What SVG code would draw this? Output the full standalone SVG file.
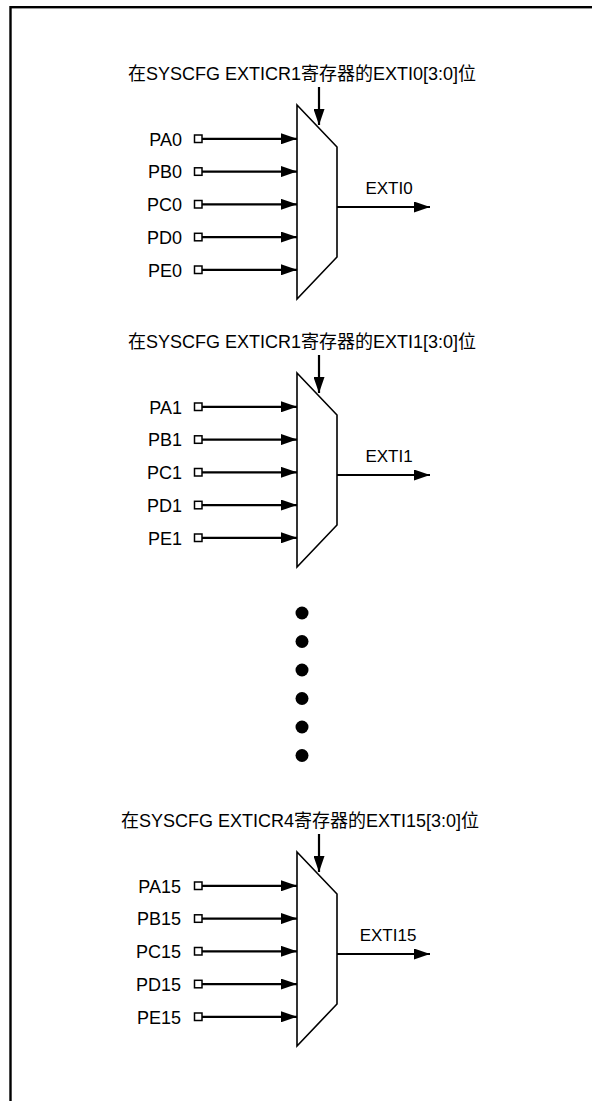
<svg xmlns="http://www.w3.org/2000/svg" width="592" height="1101" viewBox="0 0 592 1101">
<defs>
<style>
.t{font-family:"Liberation Sans","Noto Sans CJK SC",sans-serif;font-size:18px;fill:#000}
.lab{font-family:"Liberation Sans",sans-serif;font-size:18px;fill:#000;text-anchor:end}
.out{font-family:"Liberation Sans",sans-serif;font-size:17px;fill:#000;text-anchor:middle}
.w{stroke:#000;stroke-width:2.2;fill:none}
.sq{stroke:#000;stroke-width:1.5;fill:#fff}
.mux{stroke:#000;stroke-width:1.6;fill:#fff}
</style>
<marker id="ah" markerUnits="userSpaceOnUse" markerWidth="16" markerHeight="11" refX="16" refY="5.5" orient="auto">
<path d="M0,0 L16,5.5 L0,11 z" fill="#000"/>
</marker>
<g id="muxblock">
<path class="mux" d="M297,105 L337,147 L337,257 L297,299 Z"/>
</g>
</defs>
<rect x="10.5" y="7.2" width="700" height="1200" fill="none" stroke="#000" stroke-width="2.4"/>

<g id="block1">
<text class="t" x="302" y="80" text-anchor="middle">在SYSCFG EXTICR1寄存器的EXTI0[3:0]位</text>
<g id="mux1"><path class="mux" d="M297,105 L337,147 L337,257 L297,299 Z"/></g>
<g id="in1">
<text class="lab" x="182" y="145.5">PA0</text>
<text class="lab" x="182" y="178.3">PB0</text>
<text class="lab" x="182" y="211">PC0</text>
<text class="lab" x="182" y="243.8">PD0</text>
<text class="lab" x="182" y="276.5">PE0</text>
<rect class="sq" x="194.5" y="135" width="7.5" height="7.5"/>
<rect class="sq" x="194.5" y="167.8" width="7.5" height="7.5"/>
<rect class="sq" x="194.5" y="200.5" width="7.5" height="7.5"/>
<rect class="sq" x="194.5" y="233.3" width="7.5" height="7.5"/>
<rect class="sq" x="194.5" y="266" width="7.5" height="7.5"/>
</g>
<text class="out" x="389" y="194">EXTI0</text>
</g>

<g id="block2">
<text class="t" x="302" y="348" text-anchor="middle">在SYSCFG EXTICR1寄存器的EXTI1[3:0]位</text>
<g id="mux2"><path class="mux" d="M297,373 L337,415 L337,525 L297,567 Z"/></g>
<g id="in2">
<text class="lab" x="182" y="413.5">PA1</text>
<text class="lab" x="182" y="446.3">PB1</text>
<text class="lab" x="182" y="479">PC1</text>
<text class="lab" x="182" y="511.8">PD1</text>
<text class="lab" x="182" y="544.5">PE1</text>
<rect class="sq" x="194.5" y="403" width="7.5" height="7.5"/>
<rect class="sq" x="194.5" y="435.8" width="7.5" height="7.5"/>
<rect class="sq" x="194.5" y="468.5" width="7.5" height="7.5"/>
<rect class="sq" x="194.5" y="501.3" width="7.5" height="7.5"/>
<rect class="sq" x="194.5" y="534" width="7.5" height="7.5"/>
</g>
<text class="out" x="389" y="462">EXTI1</text>
</g>

<g id="dots">
<circle cx="302" cy="613" r="6.5"/>
<circle cx="302" cy="641.5" r="6.5"/>
<circle cx="302" cy="670" r="6.5"/>
<circle cx="302" cy="698.5" r="6.5"/>
<circle cx="302" cy="727" r="6.5"/>
<circle cx="302" cy="755.5" r="6.5"/>
</g>

<g id="block3">
<text class="t" x="300" y="827" text-anchor="middle">在SYSCFG EXTICR4寄存器的EXTI15[3:0]位</text>
<g id="mux3"><path class="mux" d="M297,852 L337,894 L337,1004 L297,1046 Z"/></g>
<g id="in3">
<text class="lab" x="181" y="892.5">PA15</text>
<text class="lab" x="181" y="925.3">PB15</text>
<text class="lab" x="181" y="958">PC15</text>
<text class="lab" x="181" y="990.8">PD15</text>
<text class="lab" x="181" y="1023.5">PE15</text>
<rect class="sq" x="194.5" y="882" width="7.5" height="7.5"/>
<rect class="sq" x="194.5" y="914.8" width="7.5" height="7.5"/>
<rect class="sq" x="194.5" y="947.5" width="7.5" height="7.5"/>
<rect class="sq" x="194.5" y="980.3" width="7.5" height="7.5"/>
<rect class="sq" x="194.5" y="1013" width="7.5" height="7.5"/>
</g>
<text class="out" x="388" y="941">EXTI15</text>
</g>

<g id="connectors" class="w" marker-end="url(#ah)">
<line x1="319" y1="87" x2="319" y2="125"/>
<line x1="202" y1="138.8" x2="297" y2="138.8"/>
<line x1="202" y1="171.6" x2="297" y2="171.6"/>
<line x1="202" y1="204.3" x2="297" y2="204.3"/>
<line x1="202" y1="237.1" x2="297" y2="237.1"/>
<line x1="202" y1="269.8" x2="297" y2="269.8"/>
<line x1="337" y1="207" x2="430" y2="207"/>

<line x1="319" y1="355" x2="319" y2="393"/>
<line x1="202" y1="406.8" x2="297" y2="406.8"/>
<line x1="202" y1="439.6" x2="297" y2="439.6"/>
<line x1="202" y1="472.3" x2="297" y2="472.3"/>
<line x1="202" y1="505.1" x2="297" y2="505.1"/>
<line x1="202" y1="537.8" x2="297" y2="537.8"/>
<line x1="337" y1="475" x2="430" y2="475"/>

<line x1="319" y1="834" x2="319" y2="872"/>
<line x1="202" y1="885.8" x2="297" y2="885.8"/>
<line x1="202" y1="918.6" x2="297" y2="918.6"/>
<line x1="202" y1="951.3" x2="297" y2="951.3"/>
<line x1="202" y1="984.1" x2="297" y2="984.1"/>
<line x1="202" y1="1016.8" x2="297" y2="1016.8"/>
<line x1="337" y1="954" x2="430" y2="954"/>
</g>
</svg>
